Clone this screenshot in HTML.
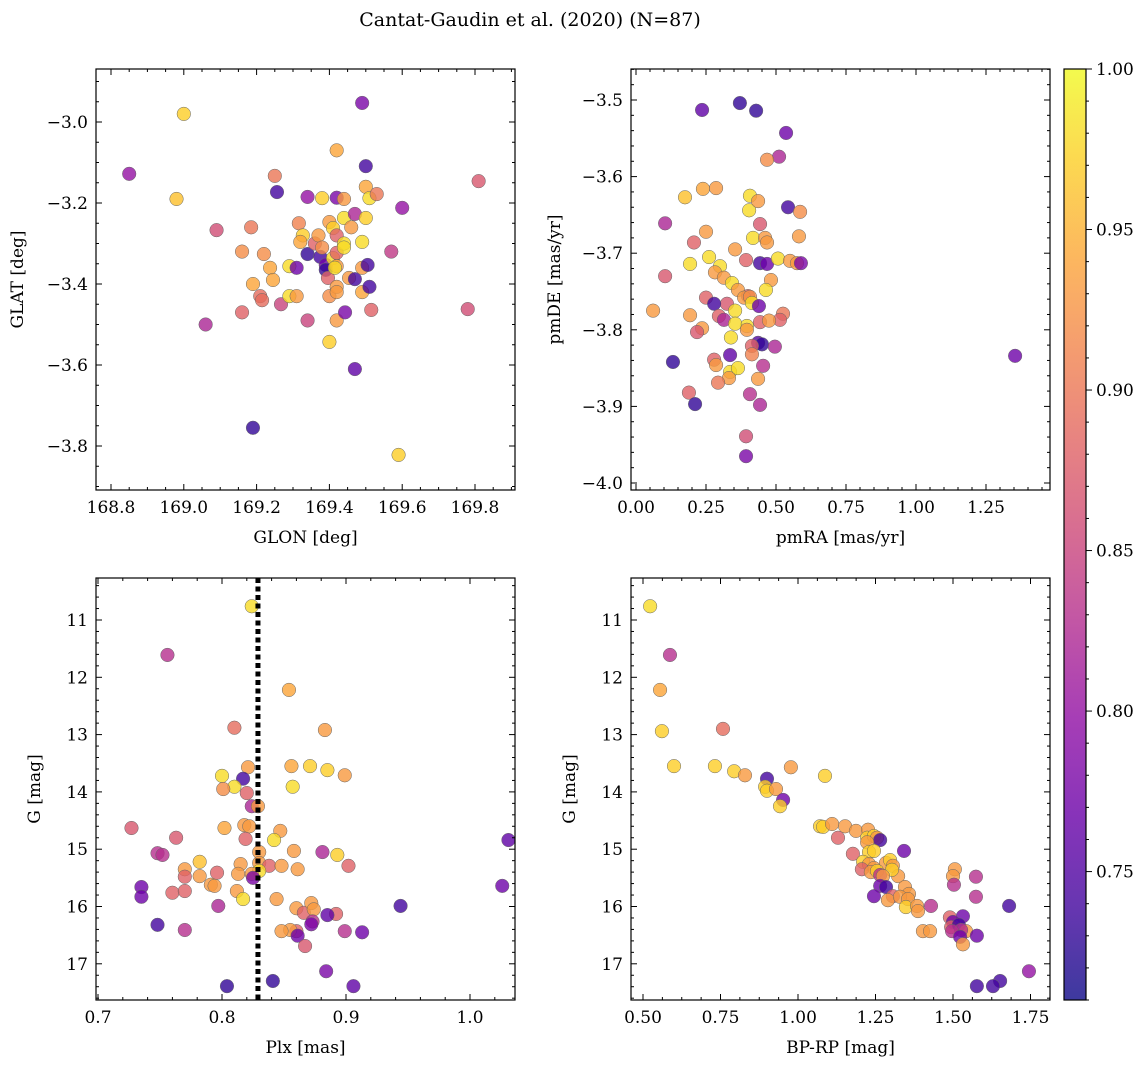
<!DOCTYPE html>
<html><head><meta charset="utf-8">
<style>
body{margin:0;background:#fff;}
svg text{font-family:"DejaVu Serif","Liberation Serif",serif;fill:#000;}
</style></head>
<body>
<svg id="fig" width="1148" height="1068" viewBox="0 0 1148 1068" xmlns="http://www.w3.org/2000/svg">
<rect width="1148" height="1068" fill="#fff"/>
<text x="530" y="26" font-size="19" text-anchor="middle">Cantat-Gaudin et al. (2020) (N=87)</text>
</svg>
<script>
const glon = [168.85,169.00,168.98,169.09,169.06,169.16,169.16,169.185,169.19,169.21,169.215,169.19,169.22,169.237,169.245,169.25,169.256,169.267,169.29,169.29,169.31,169.31,169.316,169.327,169.32,169.34,169.34,169.34,169.36,169.37,169.375,169.38,169.38,169.39,169.39,169.396,169.40,169.40,169.40,169.41,169.41,169.42,169.415,169.42,169.42,169.42,169.42,169.42,169.42,169.42,169.44,169.44,169.44,169.44,169.443,169.454,169.46,169.47,169.47,169.47,169.49,169.49,169.49,169.49,169.50,169.50,169.50,169.505,169.51,169.51,169.515,169.53,169.57,169.60,169.59,169.78,169.81];
const glat = [-3.128,-2.98,-3.19,-3.267,-3.50,-3.32,-3.47,-3.26,-3.40,-3.43,-3.44,-3.755,-3.326,-3.36,-3.39,-3.133,-3.173,-3.45,-3.356,-3.43,-3.43,-3.36,-3.25,-3.28,-3.296,-3.326,-3.185,-3.49,-3.30,-3.28,-3.333,-3.188,-3.31,-3.353,-3.365,-3.385,-3.247,-3.43,-3.543,-3.262,-3.336,-3.356,-3.36,-3.407,-3.42,-3.07,-3.28,-3.323,-3.49,-3.187,-3.237,-3.19,-3.30,-3.31,-3.47,-3.385,-3.26,-3.227,-3.388,-3.61,-2.953,-3.296,-3.36,-3.42,-3.16,-3.109,-3.237,-3.353,-3.407,-3.188,-3.464,-3.178,-3.32,-3.212,-3.822,-3.462,-3.146];
const probA = [0.80,0.97,0.96,0.86,0.82,0.92,0.88,0.90,0.94,0.89,0.89,0.73,0.92,0.94,0.94,0.90,0.74,0.85,0.98,0.98,0.93,0.77,0.91,0.97,0.94,0.73,0.80,0.85,0.88,0.93,0.74,0.97,0.92,0.77,0.73,0.88,0.93,0.92,0.97,0.97,0.98,0.93,0.98,0.93,0.93,0.94,0.88,0.88,0.93,0.78,0.98,0.93,0.98,0.98,0.78,0.93,0.93,0.82,0.74,0.76,0.78,0.98,0.93,0.94,0.94,0.74,0.97,0.74,0.74,0.98,0.88,0.90,0.84,0.80,0.97,0.86,0.87];

const pmra = [0.371,0.236,0.429,0.536,0.511,0.468,0.175,0.239,0.286,0.407,0.404,0.436,0.104,0.443,0.543,0.586,0.25,0.418,0.461,0.582,0.468,0.207,0.354,0.104,0.30,0.393,0.261,0.193,0.443,0.468,0.507,0.55,0.575,0.589,0.282,0.314,0.482,0.343,0.364,0.40,0.386,0.407,0.414,0.464,0.25,0.325,0.279,0.439,0.354,0.061,0.193,0.296,0.314,0.525,0.514,0.443,0.396,0.354,0.236,0.218,0.396,0.475,0.339,0.436,0.45,0.414,0.496,0.414,0.336,0.132,1.354,0.279,0.286,0.336,0.364,0.332,0.293,0.436,0.454,0.189,0.407,0.211,0.443,0.393,0.393];
const pmde = [-3.504,-3.513,-3.514,-3.543,-3.574,-3.578,-3.627,-3.616,-3.615,-3.625,-3.644,-3.632,-3.661,-3.662,-3.64,-3.646,-3.672,-3.68,-3.68,-3.678,-3.686,-3.686,-3.695,-3.73,-3.717,-3.709,-3.705,-3.714,-3.713,-3.714,-3.707,-3.71,-3.713,-3.713,-3.725,-3.732,-3.735,-3.739,-3.748,-3.756,-3.758,-3.757,-3.765,-3.748,-3.758,-3.766,-3.766,-3.769,-3.775,-3.775,-3.781,-3.782,-3.787,-3.779,-3.787,-3.79,-3.795,-3.792,-3.798,-3.803,-3.80,-3.788,-3.81,-3.817,-3.819,-3.821,-3.822,-3.832,-3.833,-3.842,-3.834,-3.839,-3.846,-3.855,-3.85,-3.863,-3.869,-3.864,-3.847,-3.882,-3.884,-3.897,-3.898,-3.939,-3.965];
const probB = [0.73,0.76,0.73,0.77,0.82,0.92,0.96,0.94,0.93,0.98,0.98,0.93,0.82,0.87,0.74,0.92,0.93,0.98,0.93,0.93,0.93,0.88,0.93,0.87,0.98,0.88,0.98,0.98,0.74,0.77,0.98,0.93,0.93,0.78,0.93,0.93,0.93,0.98,0.93,0.88,0.93,0.92,0.98,0.98,0.88,0.87,0.74,0.77,0.98,0.93,0.93,0.88,0.82,0.90,0.88,0.88,0.98,0.98,0.93,0.87,0.93,0.93,0.98,0.75,0.73,0.88,0.82,0.91,0.76,0.73,0.77,0.88,0.93,0.98,0.98,0.93,0.90,0.93,0.83,0.88,0.83,0.73,0.82,0.86,0.78];

const plx = [0.824,0.756,0.854,0.81,0.883,0.856,0.821,0.871,0.885,0.899,0.80,0.817,0.81,0.857,0.801,0.82,0.824,0.829,0.818,0.822,0.802,0.847,0.727,0.763,0.842,0.819,0.748,0.752,0.83,0.858,0.881,0.893,1.031,0.83,0.815,0.838,0.861,0.848,0.902,0.77,0.782,0.83,0.813,0.824,0.796,0.77,0.782,0.825,0.735,0.76,0.77,0.791,0.794,0.812,0.817,0.844,0.735,0.748,0.77,0.797,0.86,0.866,0.872,0.874,0.892,0.885,0.944,1.026,0.873,0.872,0.86,0.855,0.848,0.899,0.913,0.861,0.867,0.884,0.841,0.804,0.906];
const gmagA = [10.76,11.61,12.22,12.88,12.92,13.55,13.57,13.55,13.62,13.71,13.72,13.77,13.91,13.91,13.95,14.02,14.25,14.25,14.58,14.6,14.63,14.68,14.63,14.8,14.84,14.82,15.07,15.1,15.05,15.03,15.05,15.1,14.84,15.24,15.26,15.29,15.35,15.29,15.29,15.35,15.22,15.38,15.43,15.43,15.41,15.48,15.47,15.5,15.66,15.76,15.73,15.62,15.64,15.73,15.87,15.87,15.83,16.32,16.41,15.99,16.03,16.11,15.94,16.05,16.13,16.15,15.99,15.64,16.26,16.31,16.43,16.41,16.43,16.43,16.45,16.51,16.69,17.13,17.3,17.39,17.39];
const probC = [0.98,0.83,0.94,0.89,0.93,0.94,0.93,0.97,0.97,0.93,0.98,0.74,0.98,0.98,0.92,0.88,0.82,0.93,0.93,0.93,0.94,0.93,0.87,0.87,0.98,0.88,0.83,0.83,0.93,0.93,0.82,0.97,0.76,0.93,0.93,0.88,0.93,0.93,0.88,0.93,0.96,0.98,0.93,0.93,0.88,0.88,0.93,0.78,0.77,0.88,0.88,0.93,0.93,0.93,0.98,0.93,0.77,0.74,0.83,0.82,0.93,0.88,0.93,0.93,0.88,0.76,0.74,0.77,0.83,0.78,0.88,0.93,0.93,0.83,0.77,0.77,0.87,0.78,0.73,0.73,0.76];
const plxRef = [0.829];

const bprp = [0.523,0.587,0.555,0.561,0.758,0.6,0.732,0.794,0.977,1.087,0.829,0.9,0.894,0.9,0.929,0.952,0.942,1.071,1.081,1.11,1.152,1.129,1.187,1.226,1.223,1.245,1.255,1.265,1.223,1.177,1.229,1.245,1.342,1.21,1.229,1.284,1.297,1.245,1.306,1.206,1.235,1.255,1.265,1.323,1.303,1.274,1.506,1.5,1.574,1.503,1.265,1.284,1.345,1.358,1.306,1.245,1.29,1.329,1.355,1.348,1.384,1.387,1.429,1.532,1.681,1.574,1.49,1.5,1.494,1.519,1.403,1.426,1.542,1.526,1.497,1.523,1.577,1.532,1.745,1.652,1.629,1.577];
const gmagB = [10.76,11.61,12.22,12.94,12.9,13.55,13.55,13.64,13.57,13.72,13.71,13.77,13.91,13.98,13.95,14.14,14.25,14.6,14.61,14.56,14.6,14.8,14.68,14.66,14.8,14.77,14.8,14.84,14.88,15.08,15.05,15.03,15.03,15.22,15.26,15.24,15.19,15.33,15.29,15.35,15.4,15.38,15.45,15.47,15.36,15.47,15.35,15.47,15.48,15.62,15.64,15.66,15.66,15.78,15.82,15.82,15.89,15.83,15.87,16.01,15.99,16.08,15.99,16.17,15.99,15.83,16.19,16.27,16.36,16.32,16.43,16.43,16.43,16.41,16.43,16.53,16.51,16.66,17.13,17.3,17.39,17.39];
const probD = [0.98,0.83,0.94,0.97,0.89,0.97,0.97,0.97,0.93,0.97,0.93,0.74,0.97,0.97,0.93,0.77,0.97,0.97,0.97,0.93,0.93,0.88,0.93,0.93,0.97,0.97,0.93,0.74,0.93,0.88,0.97,0.97,0.77,0.97,0.93,0.93,0.97,0.93,0.93,0.88,0.93,0.97,0.83,0.93,0.97,0.93,0.93,0.93,0.83,0.83,0.77,0.74,0.93,0.93,0.88,0.77,0.93,0.93,0.93,0.97,0.93,0.93,0.83,0.77,0.74,0.83,0.88,0.77,0.88,0.74,0.93,0.93,0.93,0.83,0.83,0.77,0.77,0.93,0.80,0.74,0.74,0.74];

const ticksGlon = [168.8,169.0,169.2,169.4,169.6,169.8];
const ticksGlat = [-3.0,-3.2,-3.4,-3.6,-3.8];
const ticksPmra = [0.00,0.25,0.50,0.75,1.00,1.25];
const ticksPmde = [-3.5,-3.6,-3.7,-3.8,-3.9,-4.0];
const ticksPlx = [0.7,0.8,0.9,1.0];
const ticksG = [11,12,13,14,15,16,17];
const ticksBprp = [0.50,0.75,1.00,1.25,1.50,1.75];
const ticksCbar = [0.75,0.80,0.85,0.90,0.95,1.00];
const VMIN = 0.71, VMAX = 1.0;

const NS = "http://www.w3.org/2000/svg";
const svg = document.getElementById('fig');
function mk(tag, attrs, parent){const e=document.createElementNS(NS,tag);for(const k in attrs)e.setAttribute(k,attrs[k]);(parent||svg).appendChild(e);return e;}

const stops=[[0,'#0d0887'],[0.1,'#41049d'],[0.2,'#6a00a8'],[0.3,'#8f0da4'],[0.4,'#b12a90'],[0.5,'#cc4778'],[0.6,'#e16462'],[0.7,'#f2844b'],[0.8,'#fca636'],[0.9,'#fcce25'],[1,'#f0f921']];
function hex(h){return [1,3,5].map(i=>parseInt(h.substr(i,2),16));}
function plasma(t){t=Math.max(0,Math.min(1,t));for(let i=1;i<stops.length;i++){if(t<=stops[i][0]){const a=stops[i-1],b=stops[i];const f=(t-a[0])/(b[0]-a[0]);const c1=hex(a[1]),c2=hex(b[1]);return 'rgb('+c1.map((v,j)=>Math.round(v+(c2[j]-v)*f)).join(',')+')';}}return stops[stops.length-1][1];}

function fmt(v,d){return (v<0?'\u2212':'')+Math.abs(v).toFixed(d);}

function panel(o){
  const g=mk('g',{}); 
  
  
  const sx=v=>o.x0+(v-o.xd[0])/(o.xd[1]-o.xd[0])*(o.x1-o.x0);
  const sy=v=>o.y0+(v-o.yd[0])/(o.yd[1]-o.yd[0])*(o.y1-o.y0);
  for(let i=0;i<o.xs.length;i++){
    const c=mk('circle',{cx:sx(o.xs[i]),cy:sy(o.ys[i]),r:6.8,fill:plasma((o.cs[i]-VMIN)/(VMAX-VMIN)),'fill-opacity':0.8,stroke:'#666','stroke-width':0.5},g);
    
    
  }
  if(o.vline){ for(const v of o.vline){const l=mk('line',{x1:sx(v),x2:sx(v),y1:o.y0,y2:o.y1,stroke:'#000','stroke-width':5,'stroke-dasharray':'5,3.5'},g);
    
    }}
  const L=Math.min(o.x0,o.x1),R=Math.max(o.x0,o.x1),T=Math.min(o.y0,o.y1),B=Math.max(o.y0,o.y1);
  const fr=mk('rect',{x:L,y:T,width:R-L,height:B-T,fill:'none',stroke:'#000','stroke-width':1.2},g);
  
  
  const xstep=o.xt[1]-o.xt[0];
  for(let k=-o.xmn*2;k<=(o.xt.length+1)*o.xmn;k++){
    const v=o.xt[0]+k*xstep/o.xmn; const px=sx(v); if(px<L-0.1||px>R+0.1)continue;
    const len=(k%o.xmn===0)?6:3;
    mk('line',{x1:px,x2:px,y1:B,y2:B-len,stroke:'#000','stroke-width':1},g);
    mk('line',{x1:px,x2:px,y1:T,y2:T+len,stroke:'#000','stroke-width':1},g);
  }
  for(const v of o.xt){const t=mk('text',{x:sx(v),y:B+23,'font-size':17,'text-anchor':'middle'},g);t.textContent=fmt(v,o.xdec);
    
    }
  const ystep=o.yt[1]-o.yt[0];
  for(let k=-o.ymn*2;k<=(o.yt.length+1)*o.ymn;k++){
    const v=o.yt[0]+k*ystep/o.ymn; const py=sy(v); if(py<T-0.1||py>B+0.1)continue;
    const len=(k%o.ymn===0)?6:3;
    mk('line',{x1:L,x2:L+len,y1:py,y2:py,stroke:'#000','stroke-width':1},g);
    mk('line',{x1:R,x2:R-len,y1:py,y2:py,stroke:'#000','stroke-width':1},g);
  }
  for(const v of o.yt){const t=mk('text',{x:L-8,y:sy(v)+6,'font-size':17,'text-anchor':'end'},g);t.textContent=fmt(v,o.ydec);
    
    }
  const xl=mk('text',{x:(L+R)/2,y:B+53,'font-size':17,'text-anchor':'middle'},g);xl.textContent=o.xlab;
  
  
  const yl=mk('text',{x:0,y:0,'font-size':17,'text-anchor':'middle',transform:`translate(${o.ylx},${(T+B)/2}) rotate(-90)`},g);yl.textContent=o.ylab;
  
  
}

panel({name:'glon-glat-panel',x0:96,x1:515,y0:69,y1:490,xd:[168.8-15/364,168.8+404/364],yd:[-3.0+53/405,-3.0-368/405],
  xs:glon,ys:glat,cs:probA,xt:ticksGlon,yt:ticksGlat,xmn:4,ymn:4,xdec:1,ydec:1,xlab:'GLON [deg]',ylab:'GLAT [deg]',ylx:23});
panel({name:'proper-motion-panel',x0:631,x1:1050,y0:69,y1:490,xd:[-5/280,414/280],yd:[-3.5+31/766,-3.5-390/766],
  xs:pmra,ys:pmde,cs:probB,xt:ticksPmra,yt:ticksPmde,xmn:5,ymn:5,xdec:2,ydec:1,xlab:'pmRA [mas/yr]',ylab:'pmDE [mas/yr]',ylx:560});
panel({name:'parallax-magnitude-panel',x0:96,x1:515,y0:578,y1:1000,xd:[0.7-2/1240,0.7+417/1240],yd:[11-42/57.3,11+380/57.3],
  xs:plx,ys:gmagA,cs:probC,xt:ticksPlx,yt:ticksG,xmn:5,ymn:5,xdec:1,ydec:0,xlab:'Plx [mas]',ylab:'G [mag]',ylx:40,vline:plxRef});
panel({name:'color-magnitude-panel',x0:631,x1:1050,y0:578,y1:1000,xd:[0.5-12/310,0.5+407/310],yd:[11-42/57.3,11+380/57.3],
  xs:bprp,ys:gmagB,cs:probD,xt:ticksBprp,yt:ticksG,xmn:4,ymn:5,xdec:2,ydec:0,xlab:'BP-RP [mag]',ylab:'G [mag]',ylx:575});

const cb=mk('g',{});


const defs=mk('defs',{},svg);
const grad=mk('linearGradient',{id:'cbg',x1:0,y1:1,x2:0,y2:0},defs);
for(let i=0;i<=20;i++){mk('stop',{offset:i/20,'stop-color':plasma(i/20),'stop-opacity':0.8},grad);}
const CBT=69,CBB=1000,CBL=1064,CBR=1086;
mk('rect',{x:CBL,y:CBT,width:CBR-CBL,height:CBB-CBT,fill:'url(#cbg)',stroke:'#000','stroke-width':1.2},cb);
const cy=v=>CBB-(v-VMIN)/(VMAX-VMIN)*(CBB-CBT);
for(let v=0.71;v<=1.0001;v+=0.01){const y=cy(v);const maj=Math.abs(Math.round(v*20)-v*20)<0.01;
  mk('line',{x1:CBR,x2:CBR+(maj?6:3),y1:y,y2:y,stroke:'#000','stroke-width':1},cb);}
for(const v of ticksCbar){const t=mk('text',{x:CBR+10,y:cy(v)+6,'font-size':17},cb);t.textContent=v.toFixed(2);
  
  }
</script>
</body></html>
